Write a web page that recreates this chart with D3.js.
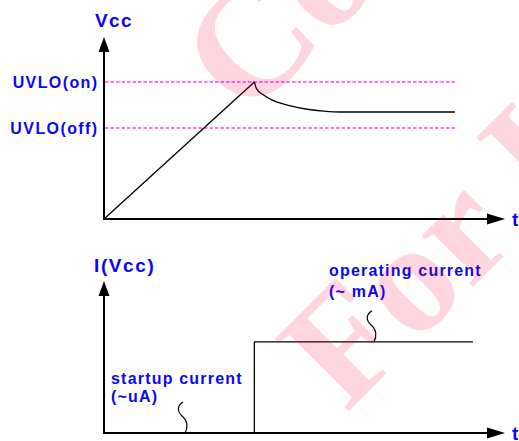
<!DOCTYPE html>
<html>
<head>
<meta charset="utf-8">
<script src="https://cdn.jsdelivr.net/npm/d3@7"></script>
<style>
  body { margin: 0; background: #fff; }
  text { font-family: "Liberation Sans", Arial, sans-serif; font-weight: bold; }
</style>
</head>
<body>
<div id="chart"></div>
<script>
// time axis, shared by both plots
var tDomain = [0, 100];

// upper plot: Vcc
var thresholdNames = ["UVLO(on)", "UVLO(off)"];
var thresholdValues = [75.3, 50];
var vccTimes = [0, 37.5, 38, 39.8, 42.3, 46.5, 50.7, 54.8, 59, 87.5];
var vccValues = [0, 75.3, 71.8, 68.1, 65, 62.1, 60.3, 59.3, 58.8, 58.8];
var thresholdEnd = 87.5;

// lower plot: I(Vcc)
var iccTimes = [0, 37.5, 37.5, 92];
var iccValues = [0, 0, 60, 60];

// callouts
var calloutNames = ["startup current", "operating current"];
var calloutSubs = ["(~uA)", "(~ mA)"];
var calloutTimes = [20.2, 67.3];
var calloutValues = [0, 60];

var watermarkLines = ["Confidential", "For Internal Use Only"];

var width = 519;
var height = 441;
var blue = "#0808f4";

var svg = d3.select("#chart").append("svg")
    .attr("width", width)
    .attr("height", height)
    .style("background-color", "white");

var x = d3.scaleLinear().domain(tDomain).range([104, 505]);
var yV = d3.scaleLinear().domain([0, 100]).range([219, 37]);
var yI = d3.scaleLinear().domain([0, 100]).range([433, 281]);

// axes with arrow heads
function drawAxes(y) {
    var x0 = x(0), y0 = y(0), xt = x.range()[1], yt = y.range()[1];
    svg.append("line")
        .attr("x1", x0).attr("y1", y0).attr("x2", x0).attr("y2", yt + 10)
        .attr("stroke", "black").attr("stroke-width", 2);
    svg.append("line")
        .attr("x1", x0 - 1).attr("y1", y0).attr("x2", xt - 12).attr("y2", y0)
        .attr("stroke", "black").attr("stroke-width", 2);
    svg.append("path")
        .attr("d", "M" + x0 + "," + yt + "L" + (x0 + 5.5) + "," + (yt + 15) + "L" + (x0 - 5.5) + "," + (yt + 15) + "Z")
        .attr("fill", "black");
    svg.append("path")
        .attr("d", "M" + xt + "," + y0 + "L" + (xt - 18) + "," + (y0 - 5.5) + "L" + (xt - 18) + "," + (y0 + 5.5) + "Z")
        .attr("fill", "black");
    svg.append("text")
        .attr("x", xt + 7).attr("y", y0 + 7)
        .attr("fill", blue).attr("font-size", 19)
        .text("t");
}
drawAxes(yV);
drawAxes(yI);

svg.append("text")
    .attr("x", x(0) - 9).attr("y", 27)
    .attr("fill", blue).attr("font-size", 19).attr("letter-spacing", 1.4)
    .text("Vcc");
svg.append("text")
    .attr("x", x(0) - 10).attr("y", 272)
    .attr("fill", blue).attr("font-size", 19).attr("letter-spacing", 1.6)
    .text("I(Vcc)");

// thresholds
thresholdValues.forEach(function(v, i) {
    svg.append("line")
        .attr("x1", x(0) + 1).attr("x2", x(thresholdEnd))
        .attr("y1", yV(v)).attr("y2", yV(v))
        .attr("stroke", "#ff3cff").attr("stroke-width", 1.6)
        .attr("stroke-dasharray", "3.5,2");
    svg.append("text")
        .attr("x", 98.5).attr("y", yV(v) + 6)
        .attr("text-anchor", "end")
        .attr("fill", blue).attr("font-size", 16).attr("letter-spacing", 1.4)
        .text(thresholdNames[i]);
});

// Vcc waveform: straight ramp, then decay to the settled level
var vcc = vccTimes.map(function(t, i) { return [t, vccValues[i]]; });
var lineV = d3.line()
    .x(function(d) { return x(d[0]); })
    .y(function(d) { return yV(d[1]); });
svg.append("path")
    .attr("d", lineV(vcc.slice(0, 2)))
    .attr("fill", "none").attr("stroke", "black").attr("stroke-width", 1.3);
svg.append("path")
    .attr("d", lineV.curve(d3.curveMonotoneX)(vcc.slice(1)))
    .attr("fill", "none").attr("stroke", "black").attr("stroke-width", 1.3);

// current waveform
var icc = iccTimes.map(function(t, i) { return [t, iccValues[i]]; });
svg.append("path")
    .attr("d", d3.line()
        .x(function(d) { return x(d[0]); })
        .y(function(d) { return yI(d[1]); })(icc))
    .attr("fill", "none").attr("stroke", "black").attr("stroke-width", 1.3);

// callout squiggles and labels
var labelPos = [[111, 384, 402], [329, 276, 296.5]];
calloutTimes.forEach(function(t, i) {
    var px = x(t), py = yI(calloutValues[i]);
    svg.append("path")
        .attr("d", "M" + (px - 2) + "," + (py - 31) +
            "C" + (px - 8) + "," + (py - 27) + " " + (px - 8) + "," + (py - 22) + " " + (px - 3) + "," + (py - 17) +
            "C" + (px + 3) + "," + (py - 12) + " " + (px + 3) + "," + (py - 5) + " " + px + "," + py)
        .attr("fill", "none").attr("stroke", "black").attr("stroke-width", 1.2);
    var lp = labelPos[i];
    svg.append("text")
        .attr("x", lp[0]).attr("y", lp[1])
        .attr("fill", blue).attr("font-size", 16).attr("letter-spacing", 1.2)
        .text(calloutNames[i]);
    svg.append("text")
        .attr("x", lp[0]).attr("y", lp[2])
        .attr("fill", blue).attr("font-size", 16).attr("letter-spacing", 1.2)
        .text(calloutSubs[i]);
});

// watermark
var wmPos = [[246, 121], [346, 414]];
watermarkLines.forEach(function(s, i) {
    svg.append("text")
        .attr("transform", "translate(" + wmPos[i][0] + "," + wmPos[i][1] + ") rotate(-45)")
        .style("font-family", "'Liberation Serif', 'Times New Roman', serif")
        .attr("font-size", 158)
        .attr("fill", "rgb(255,0,62)").attr("fill-opacity", 0.16)
        .text(s);
});
</script>
</body>
</html>
